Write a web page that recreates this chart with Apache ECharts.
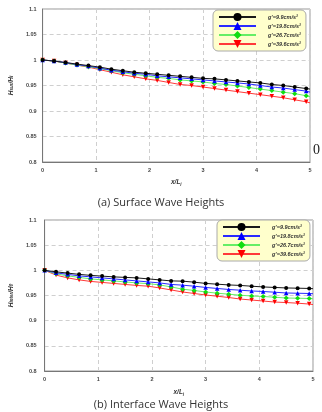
<!DOCTYPE html>
<html><head><meta charset="utf-8">
<script src="https://cdn.jsdelivr.net/npm/echarts@6/dist/echarts.min.js"></script>
<style>html,body{margin:0;padding:0;background:#fff}#c{width:322px;height:412px}</style>
</head><body><div id="c"></div>
<script>
// x positions (x/L_i); the last point (x=5) is the line end without marker
const xPos = [0,0.214,0.429,0.643,0.857,1.071,1.286,1.5,1.714,1.929,2.143,2.357,2.571,2.786,3.0,3.214,3.429,3.643,3.857,4.071,4.286,4.5,4.714,4.929,5];
const seriesNames = ["g'=9.9cm/s²","g'=19.8cm/s²","g'=26.7cm/s²","g'=39.6cm/s²"];
const xTicks = [0,1,2,3,4,5];
const yTicks = [0.8,0.85,0.9,0.95,1,1.05,1.1];

// (a) Surface wave heights
const surf99  = [1,0.998,0.995,0.992,0.989,0.986,0.982,0.979,0.976,0.974,0.972,0.970,0.968,0.966,0.964,0.963,0.961,0.959,0.957,0.955,0.952,0.950,0.947,0.944,0.943];
const surf198 = [1,0.998,0.995,0.991,0.988,0.984,0.980,0.977,0.974,0.972,0.969,0.967,0.965,0.963,0.961,0.959,0.957,0.955,0.953,0.950,0.947,0.945,0.942,0.939,0.937];
const surf267 = [1,0.998,0.994,0.990,0.987,0.983,0.979,0.975,0.972,0.969,0.966,0.964,0.961,0.959,0.957,0.954,0.952,0.949,0.946,0.943,0.940,0.937,0.934,0.930,0.928];
const surf396 = [1,0.998,0.994,0.990,0.986,0.981,0.976,0.971,0.967,0.963,0.960,0.956,0.952,0.950,0.947,0.944,0.941,0.938,0.935,0.932,0.929,0.926,0.922,0.918,0.916];

// (b) Interface wave heights
const int99  = [1,0.997,0.9945,0.992,0.990,0.9885,0.987,0.986,0.985,0.983,0.981,0.979,0.9785,0.9765,0.974,0.9725,0.971,0.970,0.9685,0.967,0.966,0.965,0.9645,0.964,0.9635];
const int198 = [1,0.995,0.992,0.989,0.987,0.985,0.983,0.981,0.979,0.977,0.975,0.972,0.9705,0.9685,0.966,0.964,0.962,0.9605,0.959,0.958,0.9565,0.955,0.9545,0.954,0.9535];
const int267 = [1,0.993,0.989,0.986,0.983,0.981,0.979,0.977,0.975,0.9735,0.971,0.967,0.9626,0.960,0.957,0.9546,0.9526,0.9506,0.949,0.948,0.9466,0.945,0.9446,0.944,0.9435];
const int396 = [1,0.9905,0.985,0.981,0.978,0.976,0.974,0.972,0.970,0.9685,0.965,0.961,0.957,0.954,0.951,0.9486,0.946,0.943,0.941,0.939,0.937,0.936,0.9347,0.933,0.932];

const styles = [
  {line:'#1a1a1a', mark:'#000000', symbol:'circle', size:4, rot:0},
  {line:'#2a2aff', mark:'#0000ff', symbol:'triangle', size:4.5, rot:0},
  {line:'#66ee66', mark:'#11dd11', symbol:'diamond', size:5, rot:0},
  {line:'#ff3a3a', mark:'#ff0000', symbol:'triangle', size:4.5, rot:180}
];

function mkData(vals){
  return vals.map((v,i)=> i===vals.length-1 ? {value:[xPos[i],v], symbol:'none'} : [xPos[i],v]);
}
function mkSeries(arrs, gi){
  return arrs.map((a,k)=>({
    name: seriesNames[k], type:'line', xAxisIndex:gi, yAxisIndex:gi,
    data: mkData(a), symbol: styles[k].symbol, symbolSize: styles[k].size, symbolRotate: styles[k].rot,
    showSymbol:true, animation:false, z: 10-k,
    lineStyle:{color:styles[k].line, width:1},
    itemStyle:{color:styles[k].mark}
  }));
}

const tickFont = {fontSize:5.5, fontWeight:'bold', color:'#444', fontFamily:'Liberation Sans'};
function xAx(gi){
  return {type:'value', gridIndex:gi, min:xTicks[0], max:xTicks[xTicks.length-1], interval:1,
    name:'{a|x/L}{b|i}', nameLocation:'middle', nameGap: gi===0?16:17,
    nameTextStyle:{rich:{a:{fontSize:6.5,fontStyle:'italic',fontWeight:'bold',color:'#333',fontFamily:'Liberation Sans'},
                         b:{fontSize:4.5,fontStyle:'italic',fontWeight:'bold',color:'#333',fontFamily:'Liberation Sans',verticalAlign:'bottom',padding:[4,0,0,0]}}},
    axisLine:{lineStyle:{color:'#777',width:1}}, axisTick:{show:false},
    axisLabel:Object.assign({margin:5},tickFont),
    splitLine:{show:true, lineStyle:{color:'#cfcfcf', type:[4,3], width:1}}};
}
function yAx(gi, nm){
  return {type:'value', gridIndex:gi, min:yTicks[0], max:yTicks[yTicks.length-1], interval:0.05,
    name:nm, nameLocation:'middle', nameRotate:90, nameGap: gi===0?21:20,
    nameTextStyle:{rich:{a:{fontSize:6.5,fontStyle:'italic',fontWeight:'bold',color:'#333',fontFamily:'Liberation Sans'},
                         b:{fontSize:4.5,fontStyle:'italic',fontWeight:'bold',color:'#333',fontFamily:'Liberation Sans'}}},
    axisLine:{show:true, lineStyle:{color:'#777',width:1}}, axisTick:{show:false},
    axisLabel:Object.assign({margin:gi===0?6:8},tickFont),
    splitLine:{show:true, lineStyle:{color:'#cfcfcf', type:[4,3], width:1}}};
}
function legendAt(left, top){
  return {orient:'vertical', left:left, top:top, itemWidth:37, itemHeight:10, itemGap:1,
    padding:[3,5,3,5], backgroundColor:'#ffffcc', borderColor:'#aaa', borderWidth:1, borderRadius:5,
    data: seriesNames, selectedMode:false,
    textStyle:{fontSize:5.5, fontWeight:'bold', fontStyle:'italic', color:'#333', fontFamily:'Liberation Sans', padding:[0,0,0,7]}};
}

const chart = echarts.init(document.getElementById('c'), null, {renderer:'canvas'});
chart.setOption({
  backgroundColor:'#fff',
  animation:false,
  grid:[
    {left:27, right:12, top:9, height:153, show:true, borderColor:'#999', borderWidth:1},
    {left:31, right:9, top:220, height:151, show:true, borderColor:'#999', borderWidth:1}
  ],
  xAxis:[xAx(0), xAx(1)],
  yAxis:[yAx(0,'{a|H}{b|sur}{a|/H}{b|i}'), yAx(1,'{a|H}{b|inter}{a|/H}{b|0}')],
  legend:[legendAt(213,10), legendAt(217,220)],
  title:[
    {text:'(a) Surface Wave Heights', left:'center', top:192, textStyle:{fontSize:11, fontWeight:'normal', color:'#333', fontFamily:'Open Sans'}},
    {text:'(b) Interface Wave Heights', left:'center', top:394, textStyle:{fontSize:11, fontWeight:'normal', color:'#333', fontFamily:'Open Sans'}}
  ],
  graphic:[{type:'text', left:313, top:143, style:{text:'0', fontSize:14, fontFamily:'Liberation Serif', fill:'#222'}}],
  series: mkSeries([surf99,surf198,surf267,surf396],0).concat(mkSeries([int99,int198,int267,int396],1))
});
</script></body></html>
